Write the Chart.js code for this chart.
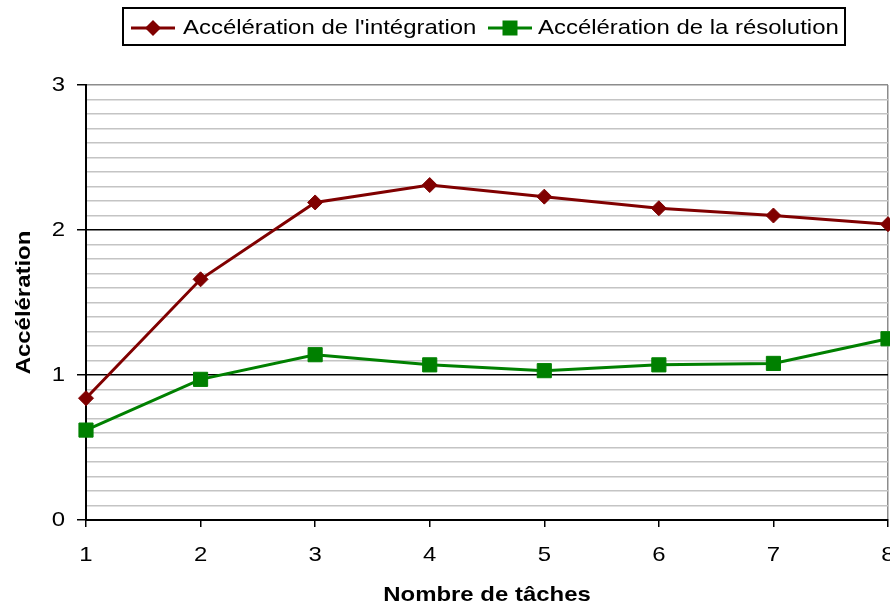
<!DOCTYPE html>
<html><head><meta charset="utf-8">
<script src="https://cdn.jsdelivr.net/npm/chart.js@4.4.1/dist/chart.umd.min.js"></script>
<style>html,body{margin:0;padding:0;background:#fff;overflow:hidden}#wrap{position:relative;width:890px;height:607px}canvas{display:block}</style>
</head><body><div id="wrap"><canvas id="c" width="890" height="607"></canvas></div>
<script>
// ---- data ----
const categories = ['1', '2', '3', '4', '5', '6', '7', '8'];
const seriesNames = ["Accélération de l'intégration", "Accélération de la résolution"];
const integrationSpeedup = [0.84, 1.66, 2.19, 2.31, 2.23, 2.15, 2.10, 2.04];
const resolutionSpeedup = [0.62, 0.97, 1.14, 1.07, 1.03, 1.07, 1.08, 1.25];
const yTickLabels = ['0', '1', '2', '3'];
const xAxisTitle = 'Nombre de tâches';
const yAxisTitle = 'Accélération';

// ---- rendering ----
const FONT = "'Liberation Sans', Arial, sans-serif";
const FS = 21;
const SX = 1.14; // horizontal text stretch of the original rendering
const canvas = document.getElementById('c');
const ctx0 = canvas.getContext('2d');
const origFill = ctx0.fillText;
ctx0.fillText = function (t, x, y, mw) {
  this.save();
  this.translate(x, y);
  this.scale(SX, 1);
  if (mw !== undefined && mw !== null) origFill.call(this, t, 0, 0, mw / SX);
  else origFill.call(this, t, 0, 0);
  this.restore();
};

const isInt = v => Math.abs(v - Math.round(v)) < 1e-6;

const boxLegend = {
  id: 'boxLegend',
  afterDraw(chart) {
    const ctx = chart.ctx;
    ctx.save();
    ctx.strokeStyle = '#000';
    ctx.lineWidth = 2;
    ctx.strokeRect(123, 8, 722, 37);
    const cy = 28;
    const slots = [{x0: 131, x1: 175, tx: 183}, {x0: 488, x1: 532, tx: 538}];
    chart.data.datasets.forEach((ds, i) => {
      const s = slots[i];
      const mx = (s.x0 + s.x1) / 2;
      ctx.strokeStyle = ds.borderColor;
      ctx.fillStyle = ds.borderColor;
      ctx.lineWidth = 3;
      ctx.beginPath();
      ctx.moveTo(s.x0, cy);
      ctx.lineTo(s.x1, cy);
      ctx.stroke();
      ctx.beginPath();
      if (ds.pointStyle === 'rectRot') {
        const r = 8;
        ctx.moveTo(mx - r, cy); ctx.lineTo(mx, cy - r); ctx.lineTo(mx + r, cy); ctx.lineTo(mx, cy + r);
        ctx.closePath();
      } else {
        const h = 7.5;
        ctx.rect(mx - h, cy - h, 2 * h, 2 * h);
      }
      ctx.fill();
      ctx.fillStyle = '#000';
      ctx.font = FS + 'px ' + FONT;
      ctx.textAlign = 'left';
      ctx.textBaseline = 'middle';
      ctx.fillText(ds.label, s.tx, cy);
    });
    ctx.restore();
  }
};

new Chart(ctx0, {
  type: 'line',
  data: {
    labels: categories,
    datasets: [
      {
        label: seriesNames[0], data: integrationSpeedup,
        borderColor: '#800000', backgroundColor: '#800000', borderWidth: 3,
        pointStyle: 'rectRot', pointRadius: 7.5, pointBorderWidth: 1,
        pointBackgroundColor: '#800000', pointBorderColor: '#800000',
        tension: 0, clip: false
      },
      {
        label: seriesNames[1], data: resolutionSpeedup,
        borderColor: '#008000', backgroundColor: '#008000', borderWidth: 3,
        pointStyle: 'rect', pointRadius: 10, pointBorderWidth: 1,
        pointBackgroundColor: '#008000', pointBorderColor: '#008000',
        tension: 0, clip: false
      }
    ]
  },
  options: {
    responsive: false,
    animation: false,
    devicePixelRatio: 1,
    events: [],
    layout: {autoPadding: false, padding: {top: 85, right: 2, left: 0, bottom: 0}},
    plugins: {legend: {display: false}, tooltip: {enabled: false}, title: {display: false}},
    scales: {
      x: {
        type: 'category',
        offset: false,
        border: {color: '#000', width: 2},
        grid: {
          drawOnChartArea: true,
          drawTicks: true,
          tickLength: 7,
          tickColor: '#000',
          tickWidth: 1.5,
          lineWidth: 1.5,
          color: c => (c.index === categories.length - 1 ? '#8c8c8c' : 'rgba(0,0,0,0)')
        },
        ticks: {
          color: '#000', font: {family: FONT, size: FS}, padding: 16,
          maxRotation: 0, autoSkip: false
        },
        title: {
          display: true, text: xAxisTitle, color: '#000',
          font: {family: FONT, size: FS, weight: 'bold'}, padding: {top: 0, bottom: -1}
        },
        afterFit(s) { s.height = 87; s.paddingLeft = 0; s.paddingRight = 0; }
      },
      y: {
        min: 0, max: 3,
        border: {color: '#000', width: 2},
        grid: {
          drawTicks: true,
          tickLength: 9,
          tickWidth: 1.5,
          tickColor: c => (c.tick && isInt(c.tick.value) ? '#000' : 'rgba(0,0,0,0)'),
          lineWidth: 1.5,
          color: c => {
            const v = c.tick ? c.tick.value : 0;
            if (isInt(v)) return Math.round(v) === 3 ? '#8c8c8c' : '#000';
            return '#c4c4c4';
          }
        },
        ticks: {
          stepSize: 0.1, maxTicksLimit: 100, autoSkip: false,
          color: '#000', font: {family: FONT, size: FS}, padding: 12,
          callback: v => (isInt(v) ? yTickLabels[Math.round(v)] : '')
        },
        title: {
          display: true, text: yAxisTitle, color: '#000',
          font: {family: FONT, size: FS, weight: 'bold'}, padding: {top: 12, bottom: 0}
        },
        afterFit(s) { s.width = 86; s.paddingTop = 0; s.paddingBottom = 0; }
      }
    }
  },
  plugins: [boxLegend]
});
</script>
</body></html>
